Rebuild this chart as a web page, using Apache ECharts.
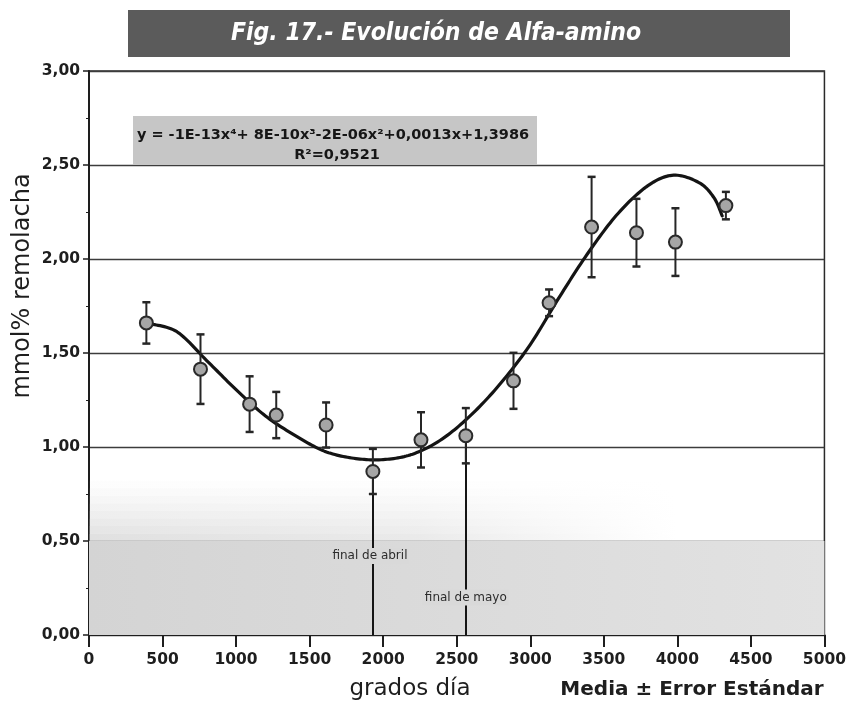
<!DOCTYPE html>
<html>
<head>
<meta charset="utf-8">
<script src="https://cdn.jsdelivr.net/npm/echarts@6/dist/echarts.min.js"></script>
<style>
  html, body { margin: 0; padding: 0; background: #ffffff; }
  #chart { width: 849px; height: 704px; }
</style>
</head>
<body>
<div id="chart"></div>
<script>
// Observations: mean and standard error of alpha-amino N at each sampling date
const obsDegreeDays = [390, 758, 1092, 1273, 1612, 1930, 2257, 2562, 2886, 3128, 3417, 3722, 3987, 4330];
const obsMean       = [1.66, 1.414, 1.228, 1.17, 1.117, 0.87, 1.038, 1.06, 1.352, 1.767, 2.17, 2.14, 2.09, 2.284];
const obsStdErr     = [0.11, 0.185, 0.148, 0.123, 0.12, 0.12, 0.147, 0.147, 0.149, 0.071, 0.267, 0.18, 0.18, 0.073];

// Fitted 4th-degree polynomial trend line
const trendX = [420, 600, 800, 1000, 1200, 1400, 1600, 1800, 2000, 2200, 2400, 2600, 2800, 3000, 3200, 3400, 3600, 3800, 3975, 4150, 4250, 4305];
const trendY = [1.655, 1.612, 1.46, 1.305, 1.165, 1.062, 0.978, 0.94, 0.933, 0.962, 1.042, 1.172, 1.34, 1.545, 1.80, 2.04, 2.245, 2.39, 2.446, 2.405, 2.325, 2.229];

// Reference dates (index into the observations) and their captions
const refObsIndex = [5, 7];
const refCaptions = ['final de abril', 'final de mayo'];

// Axis tick labels
const xTickLabels = ['0', '500', '1000', '1500', '2000', '2500', '3000', '3500', '4000', '4500', '5000'];
const yTickLabels = ['0,00', '0,50', '1,00', '1,50', '2,00', '2,50', '3,00'];

const titleText = 'Fig. 17.- Evolución de Alfa-amino';
const equationLine1 = 'y = -1E-13x\u2074+ 8E-10x\u00b3-2E-06x\u00b2+0,0013x+1,3986';
const equationLine2 = 'R\u00b2=0,9521';

const FONT = "'DejaVu Sans', Verdana, sans-serif";
const INK = '#1e1e1e';

const chart = echarts.init(document.getElementById('chart'), null, { renderer: 'canvas' });

const trendData = trendX.map((x, i) => [x, trendY[i]]);
const pointData = obsDegreeDays.map((x, i) => [x, obsMean[i]]);
const errData = obsDegreeDays.map((x, i) => [x, obsMean[i] - obsStdErr[i], obsMean[i] + obsStdErr[i]]);

// caption heights (in mmol%) for the reference line labels
const captionLevels = [0.42, 0.20];
const captionX = [1910, 2562];

const refLineData = refObsIndex.map(i => [
  { coord: [obsDegreeDays[i], 0] },
  { coord: [obsDegreeDays[i], obsMean[i]] }
]);
const refCaptionData = refObsIndex.map((i, k) => ({
  coord: [captionX[k], captionLevels[k]],
  value: refCaptions[k]
}));

// soft grey shading of the lower band, fading upwards and to the right
function hGrad(a0) {
  return new echarts.graphic.LinearGradient(0, 0, 1, 0, [
    { offset: 0, color: 'rgba(195,195,195,' + a0 + ')' },
    { offset: 0.45, color: 'rgba(200,200,200,' + (a0 * 0.75) + ')' },
    { offset: 0.8, color: 'rgba(210,210,210,0)' },
    { offset: 1, color: 'rgba(220,220,220,0)' }
  ]);
}
const fadeSteps = [0.5, 0.54, 0.58, 0.62, 0.66, 0.70, 0.74, 0.78, 0.82];
const fadeAlpha = [0.5, 0.42, 0.35, 0.28, 0.21, 0.15, 0.09, 0.04];
const shadeBands = [
  [{ xAxis: 0, yAxis: 0, itemStyle: { color: new echarts.graphic.LinearGradient(0, 0, 1, 0, [
      { offset: 0, color: '#d4d4d4' }, { offset: 1, color: '#e2e2e2' }]) } }, { xAxis: 5000, yAxis: 0.5 }]
].concat(fadeAlpha.map((a, k) => [
  { xAxis: 0, yAxis: fadeSteps[k], itemStyle: { color: hGrad(a) } },
  { xAxis: 5000, yAxis: fadeSteps[k + 1] }
]));

// Smooth trend curve: Catmull-Rom spline through the trend points in pixel space
function renderTrend(params, api) {
  if (params.dataIndex !== 0) return null;
  const pts = trendX.map((x, i) => api.coord([x, trendY[i]]));
  const n = pts.length;
  const out = [pts[0]];
  const steps = 14;
  for (let i = 0; i < n - 1; i++) {
    const p0 = pts[Math.max(i - 1, 0)], p1 = pts[i], p2 = pts[i + 1], p3 = pts[Math.min(i + 2, n - 1)];
    for (let s = 1; s <= steps; s++) {
      const t = s / steps, t2 = t * t, t3 = t2 * t;
      const f = (a, b, c, d) => 0.5 * ((2 * b) + (-a + c) * t + (2 * a - 5 * b + 4 * c - d) * t2 + (-a + 3 * b - 3 * c + d) * t3);
      out.push([f(p0[0], p1[0], p2[0], p3[0]), f(p0[1], p1[1], p2[1], p3[1])]);
    }
  }
  return {
    type: 'polyline',
    shape: { points: out },
    style: { stroke: '#141414', lineWidth: 3.2, fill: null, lineJoin: 'round', lineCap: 'round' }
  };
}

const option = {
  backgroundColor: '#ffffff',
  animation: false,
  grid: {
    left: 89, right: 23, top: 71, bottom: 69,
    show: true, borderColor: '#2a2a2a', borderWidth: 1.5, backgroundColor: 'transparent'
  },
  xAxis: {
    type: 'value', min: 0, max: 5000, interval: 500,
    axisLine: { show: true, lineStyle: { color: INK, width: 2 } },
    axisTick: { show: true, inside: false, length: 12, lineStyle: { color: INK, width: 2 } },
    axisLabel: {
      margin: 17, color: INK, fontFamily: FONT, fontWeight: 'bold', fontSize: 15.5,
      formatter: v => xTickLabels[Math.round(v / 500)]
    },
    splitLine: { show: false }
  },
  yAxis: {
    type: 'value', min: 0, max: 3, interval: 0.5,
    axisLine: { show: true, lineStyle: { color: INK, width: 2 } },
    axisTick: { show: true, inside: false, length: 6, lineStyle: { color: INK, width: 1.5 } },
    minorTick: { show: true, splitNumber: 2, length: 3, lineStyle: { color: INK, width: 1 } },
    axisLabel: {
      margin: 9, color: INK, fontFamily: FONT, fontWeight: 'bold', fontSize: 15.5,
      formatter: v => yTickLabels[Math.round(v / 0.5)]
    },
    splitLine: { show: true, lineStyle: { color: '#3c3c3c', width: 1.3 } }
  },
  graphic: [
    { type: 'rect', z: 10, shape: { x: 128, y: 10, width: 662, height: 47 }, style: { fill: '#5b5b5b' } },
    { type: 'text', z: 11, x: 436, y: 34, style: {
        text: titleText, fill: '#ffffff', align: 'center', verticalAlign: 'middle',
        font: "italic bold 24.5px 'Liberation Sans Narrow', 'DejaVu Sans Condensed', sans-serif" } },
    { type: 'rect', z: 10, shape: { x: 133, y: 116, width: 404, height: 49 }, style: { fill: '#c6c6c6' } },
    { type: 'text', z: 11, x: 333, y: 135, style: {
        text: equationLine1, fill: '#161616', align: 'center', verticalAlign: 'middle',
        font: "bold 14.5px 'DejaVu Sans', sans-serif" } },
    { type: 'text', z: 11, x: 337, y: 155, style: {
        text: equationLine2, fill: '#161616', align: 'center', verticalAlign: 'middle',
        font: "bold 14.5px 'DejaVu Sans', sans-serif" } },
    { type: 'text', z: 11, x: 23, y: 286, rotation: Math.PI / 2, style: {
        text: 'mmol% remolacha', fill: INK, align: 'center', verticalAlign: 'middle',
        font: "24px 'DejaVu Sans', sans-serif" } },
    { type: 'text', z: 11, x: 410, y: 689, style: {
        text: 'grados día', fill: INK, align: 'center', verticalAlign: 'middle',
        font: "23px 'DejaVu Sans', sans-serif" } },
    { type: 'text', z: 11, x: 692, y: 690, style: {
        text: 'Media \u00b1 Error Estándar', fill: INK, align: 'center', verticalAlign: 'middle',
        font: "bold 20px 'DejaVu Sans', sans-serif" } }
  ],
  series: [
    {
      name: 'shade', type: 'line', data: [], z: -1, silent: true,
      markArea: { silent: true, data: shadeBands }
    },
    {
      name: 'reference dates', type: 'line', data: [], z: 3, silent: true,
      markLine: {
        silent: true, symbol: 'none', animation: false,
        lineStyle: { color: '#151515', width: 2, type: 'solid' },
        label: { show: false },
        data: refLineData
      },
      markPoint: {
        silent: true, symbol: 'rect', symbolSize: 1,
        itemStyle: { color: 'rgba(0,0,0,0)' },
        label: {
          show: true, position: 'inside', formatter: p => p.value,
          color: '#2c2c2c', fontFamily: FONT, fontSize: 12, backgroundColor: '#d9d9d9', padding: [2, 2]
        },
        data: refCaptionData
      }
    },
    {
      name: 'tendencia', type: 'custom', data: trendData, z: 4, silent: true,
      encode: { x: 0, y: 1 },
      renderItem: renderTrend
    },
    {
      name: 'error', type: 'custom', data: errData, z: 5,
      encode: { x: 0, y: [1, 2] },
      renderItem: (params, api) => {
        const x = api.value(0);
        const top = api.coord([x, api.value(2)]);
        const bot = api.coord([x, api.value(1)]);
        const w = 4;
        const st = { stroke: '#262626', lineWidth: 2 };
        return {
          type: 'group',
          children: [
            { type: 'line', shape: { x1: top[0], y1: top[1], x2: bot[0], y2: bot[1] }, style: st },
            { type: 'line', shape: { x1: top[0] - w, y1: top[1], x2: top[0] + w, y2: top[1] }, style: { stroke: '#262626', lineWidth: 2.5 } },
            { type: 'line', shape: { x1: bot[0] - w, y1: bot[1], x2: bot[0] + w, y2: bot[1] }, style: { stroke: '#262626', lineWidth: 2.5 } }
          ]
        };
      }
    },
    {
      name: 'media', type: 'scatter', data: pointData, z: 6,
      symbol: 'circle', symbolSize: 13,
      itemStyle: { color: '#a6a6a6', borderColor: '#2a2a2a', borderWidth: 2, opacity: 1 }
    }
  ]
};

chart.setOption(option);
</script>
</body>
</html>
